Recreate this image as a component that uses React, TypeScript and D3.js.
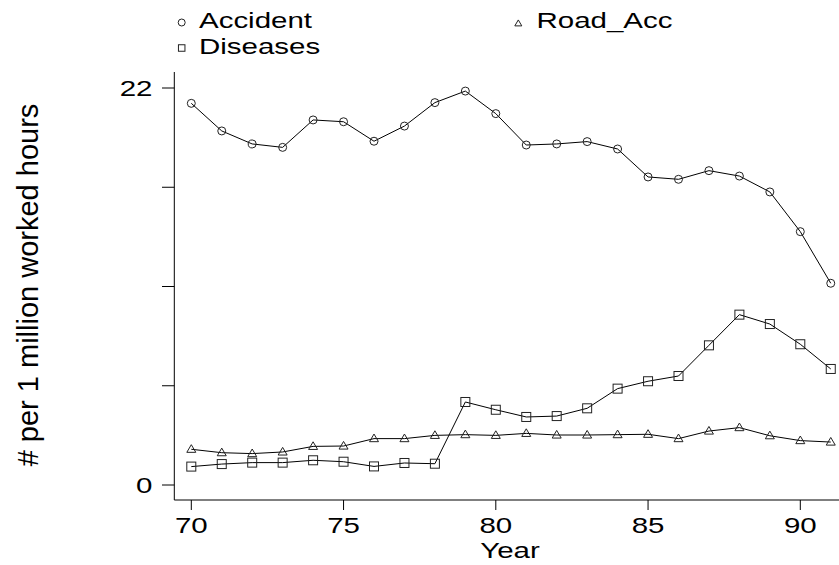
import * as d3 from "d3";

const years = [70, 71, 72, 73, 74, 75, 76, 77, 78, 79, 80, 81, 82, 83, 84, 85, 86, 87, 88, 89, 90, 91];
const accident = [21.15, 19.62, 18.9, 18.71, 20.23, 20.13, 19.05, 19.89, 21.19, 21.83, 20.58, 18.84, 18.9, 19.03, 18.62, 17.07, 16.94, 17.42, 17.12, 16.24, 14.04, 11.18];
const roadAcc = [1.98, 1.79, 1.74, 1.83, 2.14, 2.16, 2.57, 2.57, 2.75, 2.79, 2.75, 2.86, 2.77, 2.77, 2.79, 2.81, 2.57, 2.99, 3.18, 2.73, 2.46, 2.38];
const diseases = [1.02, 1.16, 1.24, 1.24, 1.37, 1.29, 1.03, 1.22, 1.18, 4.6, 4.17, 3.77, 3.82, 4.25, 5.34, 5.75, 6.04, 7.74, 9.44, 8.92, 7.8, 6.43];
const xTicks = [70, 75, 80, 85, 90];
const yTicks = [0, 5.5, 11, 16.5, 22];
const yLabels = [0, 22];

const W = 839;
const H = 565;
const FONT = "'Liberation Sans', Arial, Helvetica, sans-serif";
const SX = 1.34; // text is drawn wider than tall

const x = d3.scaleLinear().domain([70, 90]).range([191.3, 800.3]);
const y = d3.scaleLinear().domain([0, 22]).range([485, 88]);

type Shape = "circle" | "square" | "triangle";

function Marker({ cx, cy, shape, s }: { cx: number; cy: number; shape: Shape; s: number }) {
  const st = { fill: "none", stroke: "#222", strokeWidth: 1 };
  if (shape === "circle") return <circle cx={cx} cy={cy} r={s / 2} {...st} />;
  if (shape === "square") return <rect x={cx - s / 2} y={cy - s / 2} width={s} height={s} {...st} />;
  const h = s * 0.85;
  return (
    <path
      d={`M${cx},${cy - h * 0.6}L${cx + s / 2},${cy + h * 0.4}L${cx - s / 2},${cy + h * 0.4}Z`}
      {...st}
    />
  );
}

function Txt({ tx, ty, anchor, children }: { tx: number; ty: number; anchor?: string; children: any }) {
  return (
    <text
      transform={`translate(${tx},${ty}) scale(${SX},1)`}
      textAnchor={anchor || "start"}
      fontFamily={FONT}
      fontSize={22}
      fill="#000"
    >
      {children}
    </text>
  );
}

const series: { name: string; values: number[]; shape: Shape }[] = [
  { name: "Accident", values: accident, shape: "circle" },
  { name: "Road_Acc", values: roadAcc, shape: "triangle" },
  { name: "Diseases", values: diseases, shape: "square" },
];

export default function App() {
  const line = d3
    .line<number>()
    .x((_, i) => x(years[i]))
    .y((d) => y(d));

  const legend = [
    { s: series[0], lx: 181.7, ly: 22.5, tx: 199, ty: 28.3 },
    { s: series[1], lx: 518.3, ly: 23.5, tx: 536.5, ty: 28.3 },
    { s: series[2], lx: 181.7, ly: 48, tx: 199, ty: 54 },
  ];

  return (
    <svg
      width={W}
      height={H}
      style={{ position: "absolute", left: 0, top: 0, background: "#fff" }}
    >
      <rect width={W} height={H} fill="#fff" />
      {/* axes */}
      <line x1={174.3} x2={174.3} y1={72} y2={500} stroke="#000" strokeWidth={1} />
      <line x1={174.3} x2={W} y1={500} y2={500} stroke="#000" strokeWidth={1} />
      {yTicks.map((t) => (
        <line key={t} x1={162} x2={174.3} y1={y(t)} y2={y(t)} stroke="#000" strokeWidth={1} />
      ))}
      {yLabels.map((t) => (
        <Txt key={t} tx={152.5} ty={y(t) + 8} anchor="end">
          {t}
        </Txt>
      ))}
      {xTicks.map((t) => (
        <g key={t}>
          <line x1={x(t)} x2={x(t)} y1={500} y2={510} stroke="#000" strokeWidth={1} />
          <Txt tx={x(t)} ty={533} anchor="middle">
            {t}
          </Txt>
        </g>
      ))}
      <Txt tx={510} ty={557.5} anchor="middle">
        Year
      </Txt>
      <text
        transform={`translate(38.3,285) rotate(-90)`}
        textAnchor="middle"
        fontFamily={FONT}
        fontSize={29}
        fill="#000"
      >
        # per 1 million worked hours
      </text>

      {/* series */}
      {series.map((sr) => (
        <g key={sr.name}>
          <path d={line(sr.values) || ""} fill="none" stroke="#000" strokeWidth={1} />
          {sr.values.map((v, i) => (
            <Marker key={i} cx={x(years[i])} cy={y(v)} shape={sr.shape} s={sr.shape === "circle" ? 8 : 9} />
          ))}
        </g>
      ))}

      {/* legend */}
      {legend.map((l) => (
        <g key={l.s.name}>
          <Marker cx={l.lx} cy={l.ly} shape={l.s.shape} s={l.s.shape === "square" ? 6.5 : 7} />
          <Txt tx={l.tx} ty={l.ty}>
            {l.s.name}
          </Txt>
        </g>
      ))}
    </svg>
  );
}
